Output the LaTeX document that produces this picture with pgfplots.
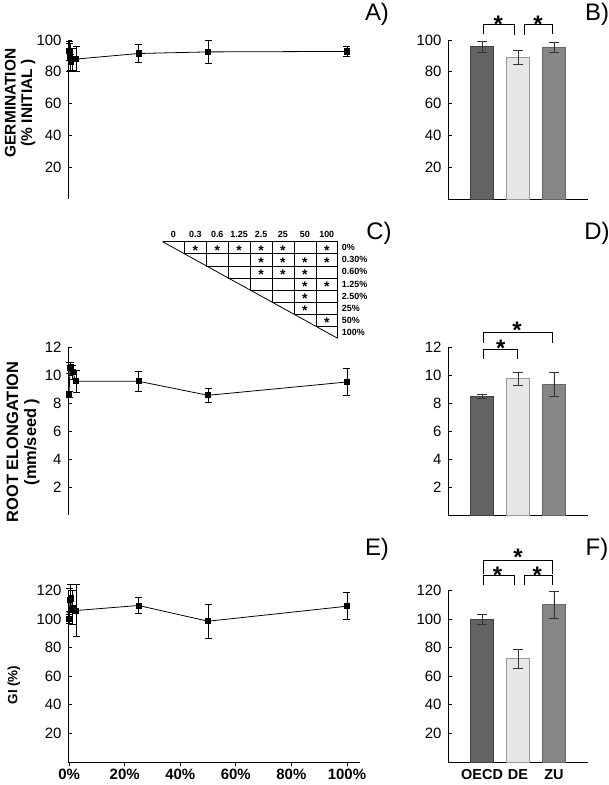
\documentclass[border=0pt]{standalone}
\usepackage{pgfplots}
\pgfplotsset{compat=1.18}
\usepackage{fontspec}
\setmainfont{Liberation Sans}
\definecolor{dkg}{HTML}{636363}
\definecolor{ltg}{HTML}{E6E6E6}
\definecolor{mdg}{HTML}{878787}
\pgfplotsset{
  base/.style={scale only axis, anchor=south west, axis x line*=bottom, axis y line*=left,
    axis line style={black, line width=0.9pt, -}, every tick/.style={black, line width=0.8pt},
    major tick length=4bp, ytick align=inside, xtick align=outside, ymin=0, clip=false,
    tick label style={font=\fontsize{15}{17}\selectfont},
    /pgf/number format/assume math mode=true, yticklabel style={xshift=-3bp}},
  series/.style={black, line width=0.8pt, mark=square*, mark size=2.6bp, mark options={solid},
    error bars/y dir=both, error bars/y explicit,
    error bars/error bar style={line width=0.6pt, black},
    error bars/error mark options={rotate=90, mark size=3.5bp, line width=0.6pt, black}},
  barst/.style={ybar, bar width=23bp, bar shift=0pt, line width=0.6pt,
    error bars/y dir=both, error bars/y explicit,
    error bars/error bar style={line width=0.7pt, black!80},
    error bars/error mark options={rotate=90, mark size=5bp, line width=0.7pt, black!80}},
}
\newcommand{\sig}[2]{\node[font=\bfseries\fontsize{24}{24}\selectfont, anchor=base, yshift=-13.5bp, inner sep=0pt] at (#1) {*};}
\begin{document}
\begin{tikzpicture}[x=1bp,y=1bp]
\useasboundingbox (0,0) rectangle (609,785);

% ---------- A ----------
\begin{axis}[base, axis x line=none, at={(68bp,586bp)}, width=292bp, height=159bp, xmin=-0.4, xmax=104.7, ymax=100,
  ytick={20,40,60,80,100}, xtick=\empty]
\addplot[series] coordinates {(0,93) +- (0,6) (0.3,89) +- (0,9) (0.6,86) +- (0,5) (1.25,88) +- (0,7)
  (2.5,88) +- (0,8) (25,91.5) +- (0,5.5) (50,92.5) +- (0,7) (100,92.8) +- (0,3)};
\end{axis}

% ---------- B ----------
\begin{axis}[base, at={(448bp,586bp)}, width=140bp, height=159bp, xmin=0.05, xmax=3.95, ymax=100,
  ytick={20,40,60,80,100}, xtick=\empty]
\addplot[barst, fill=dkg, draw=black!75] coordinates {(1,95.8) +- (0,3.4)};
\addplot[barst, fill=ltg, draw=black!40] coordinates {(2,89.1) +- (0,4.5)};
\addplot[barst, fill=mdg, draw=black!60] coordinates {(3,95.4) +- (0,3.4)};
\draw[line width=0.8pt] (axis cs:1.03,103.8) |- (axis cs:1.89,110) -- (axis cs:1.89,103.4);
\draw[line width=0.8pt] (axis cs:2.17,103.4) |- (axis cs:2.97,110) -- (axis cs:2.97,103.8);
\sig{axis cs:1.45,113.4}{}
\sig{axis cs:2.56,113.4}{}
\end{axis}

% ---------- C ----------
\begin{axis}[base, axis x line=none, at={(68bp,270bp)}, width=292bp, height=168bp, xmin=-0.4, xmax=104.7, ymax=12,
  ytick={2,4,6,8,10,12}, xtick=\empty]
\addplot[series] coordinates {(0,8.6) +- (0,0.2) (0.3,10.5) +- (0,0.4) (0.6,10.6) +- (0,0.3) (1.25,10.2) +- (0,0.5)
  (2.5,9.55) +- (0,0.8) (25,9.55) +- (0,0.7) (50,8.55) +- (0,0.5) (100,9.5) +- (0,0.95)};
\end{axis}

% ---------- D ----------
\begin{axis}[base, at={(448bp,270bp)}, width=140bp, height=168bp, xmin=0.05, xmax=3.95, ymax=12,
  ytick={2,4,6,8,10,12}, xtick=\empty]
\addplot[barst, fill=dkg, draw=black!75] coordinates {(1,8.47) +- (0,0.17)};
\addplot[barst, fill=ltg, draw=black!40] coordinates {(2,9.73) +- (0,0.45)};
\addplot[barst, fill=mdg, draw=black!60] coordinates {(3,9.35) +- (0,0.84)};
\draw[line width=0.8pt] (axis cs:1.03,11.15) |- (axis cs:1.97,11.85) -- (axis cs:1.97,11.15);
\draw[line width=0.8pt] (axis cs:1.03,12.3) |- (axis cs:2.97,13.05) -- (axis cs:2.97,12.3);
\sig{axis cs:1.52,12.3}{}
\sig{axis cs:1.97,13.6}{}
\end{axis}

% ---------- E ----------
\begin{axis}[base, at={(68bp,23bp)}, width=292bp, height=171.5bp, xmin=-0.4, xmax=104.7, ymax=120,
  ytick={20,40,60,80,100,120}, xtick={0,20,40,60,80,100},
  xticklabels={0\%,20\%,40\%,60\%,80\%,100\%},
  xticklabel style={font=\bfseries\fontsize{15}{17}\selectfont}]
\addplot[series] coordinates {(0,100) +- (0,3) (0.3,113.5) +- (0,8) (0.6,114.5) +- (0,10) (1.25,108) +- (0,12)
  (2.5,106) +- (0,18) (25,109.5) +- (0,5.5) (50,98.5) +- (0,12) (100,109) +- (0,9.5)};
\end{axis}

% ---------- F ----------
\begin{axis}[base, at={(448bp,23bp)}, width=140bp, height=171.5bp, xmin=0.05, xmax=3.95, ymax=120,
  ytick={20,40,60,80,100,120}, xtick={1,2,3}, xticklabels={OECD,DE,ZU},
  xtick style={draw=none},
  xticklabel style={font=\bfseries\fontsize{14.5}{17}\selectfont}]
\addplot[barst, fill=dkg, draw=black!75] coordinates {(1,99.7) +- (0,3.7)};
\addplot[barst, fill=ltg, draw=black!40] coordinates {(2,72.3) +- (0,6.8)};
\addplot[barst, fill=mdg, draw=black!60] coordinates {(3,110) +- (0,9.3)};
\draw[line width=0.8pt] (axis cs:1.03,123.5) |- (axis cs:1.89,130.5) -- (axis cs:1.89,123.5);
\draw[line width=0.8pt] (axis cs:2.17,123.5) |- (axis cs:2.97,130.5) -- (axis cs:2.97,123.5);
\draw[line width=0.8pt] (axis cs:1.03,131.5) |- (axis cs:2.97,141) -- (axis cs:2.97,131.5);
\sig{axis cs:1.43,134.5}{}
\sig{axis cs:2.54,134.5}{}
\sig{axis cs:2.0,147}{}
\end{axis}

% ---------- significance table (panel C) ----------
\def\L{162.5}\def\W{21.9}\def\T{543.3}\def\H{12.08}
\draw[line width=0.8pt] (\L,\T) -- (\L+8*\W,\T-8*\H);
\foreach \k in {0,...,7} {
  \draw[line width=0.6pt] (\L+\k*\W,\T-\k*\H) -- (\L+8*\W,\T-\k*\H);
}
\foreach \k in {1,...,8} {
  \draw[line width=0.6pt] (\L+\k*\W,\T) -- (\L+\k*\W,\T-\k*\H);
}
\foreach \lab [count=\j from 0] in {0,0.3,0.6,1.25,2.5,25,50,100} {
  \node[font=\bfseries\fontsize{9}{10}\selectfont, inner sep=0pt] at (\L+\j*\W+0.5*\W,\T+7) {\lab};
}
\foreach \lab [count=\i from 0] in {0\%,0.30\%,0.60\%,1.25\%,2.50\%,25\%,50\%,100\%} {
  \node[font=\bfseries\fontsize{9}{10}\selectfont, inner sep=0pt, anchor=west] at (\L+8*\W+4,\T-\i*\H-0.5*\H) {\lab};
}
\foreach \i/\j in {0/1,0/2,0/3,0/4,0/5,0/7,1/4,1/5,1/6,1/7,2/4,2/5,2/6,3/6,3/7,4/6,5/6,6/7} {
  \node[font=\bfseries\fontsize{14}{14}\selectfont, inner sep=0pt, anchor=base] at (\L+\j*\W+0.5*\W,\T-\i*\H-0.5*\H-7.5) {*};
}

% ---------- axis titles ----------
\node[rotate=90, align=center, font=\bfseries\fontsize{15.5}{16.5}\selectfont] at (20,682) {GERMINATION\\(\% INITIAL )};
\node[rotate=90, align=center, font=\bfseries\fontsize{16.5}{18}\selectfont] at (23,343) {ROOT ELONGATION\\(mm/seed )};
\node[rotate=90, font=\bfseries\fontsize{13.5}{14}\selectfont] at (14,100) {GI (\%)};

% ---------- panel labels ----------
\node[font=\fontsize{24}{24}\selectfont] at (377,771) {A)};
\node[font=\fontsize{24}{24}\selectfont] at (597,771) {B)};
\node[font=\fontsize{24}{24}\selectfont] at (379,552) {C)};
\node[font=\fontsize{24}{24}\selectfont] at (597,552) {D)};
\node[font=\fontsize{24}{24}\selectfont] at (377,236) {E)};
\node[font=\fontsize{24}{24}\selectfont] at (597,236) {F)};
\end{tikzpicture}
\end{document}
